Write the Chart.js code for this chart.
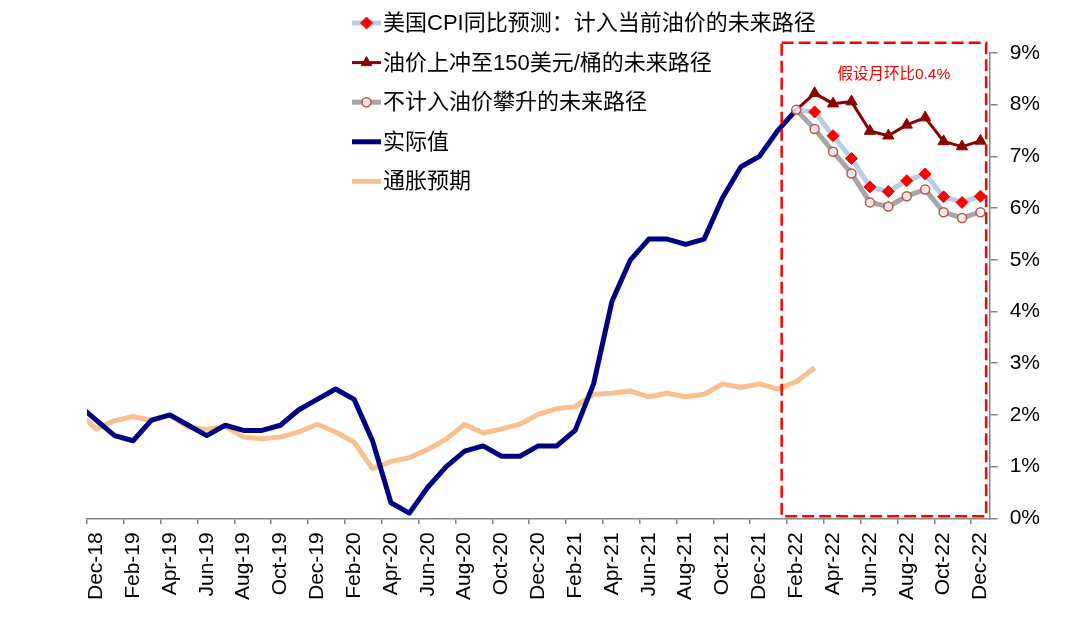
<!DOCTYPE html>
<html>
<head>
<meta charset="utf-8">
<script src="https://cdn.jsdelivr.net/npm/chart.js@4.4.1/dist/chart.umd.min.js"></script>
<style>
  body { margin: 0; background: #fff; }
  canvas { display: block; }
</style>
</head>
<body>
<canvas id="cpiChart" width="1079" height="623"></canvas>
<script>
// x-axis categories (one per month, labelled every other month)
const months = ['Dec-18','Jan-19','Feb-19','Mar-19','Apr-19','May-19','Jun-19','Jul-19','Aug-19','Sep-19','Oct-19','Nov-19',
  'Dec-19','Jan-20','Feb-20','Mar-20','Apr-20','May-20','Jun-20','Jul-20','Aug-20','Sep-20','Oct-20','Nov-20',
  'Dec-20','Jan-21','Feb-21','Mar-21','Apr-21','May-21','Jun-21','Jul-21','Aug-21','Sep-21','Oct-21','Nov-21',
  'Dec-21','Jan-22','Feb-22','Mar-22','Apr-22','May-22','Jun-22','Jul-22','Aug-22','Sep-22','Oct-22','Nov-22','Dec-22'];

// actual CPI YoY, Nov-18 .. Feb-22 (Nov-18 sits just left of the axis and is clipped)
const actualStart = -1;
const actualCpi = [2.2, 1.9, 1.6, 1.5, 1.9, 2.0, 1.8, 1.6, 1.8, 1.7, 1.7, 1.8, 2.1, 2.3, 2.5, 2.3, 1.5, 0.3, 0.1, 0.6,
  1.0, 1.3, 1.4, 1.2, 1.2, 1.4, 1.4, 1.7, 2.6, 4.2, 5.0, 5.4, 5.4, 5.3, 5.4, 6.2, 6.8, 7.0, 7.5, 7.9];

// inflation expectations, Nov-18 .. Mar-22
const expectStart = -1;
const inflationExpect = [2.05, 1.73, 1.89, 1.97, 1.89, 1.99, 1.76, 1.72, 1.78, 1.57, 1.54, 1.57, 1.67, 1.82, 1.67, 1.47,
  0.96, 1.10, 1.17, 1.33, 1.53, 1.82, 1.65, 1.73, 1.82, 2.01, 2.12, 2.16, 2.40, 2.42, 2.46, 2.35, 2.42, 2.35, 2.40,
  2.60, 2.53, 2.60, 2.50, 2.64, 2.91];

// forecast paths, Feb-22 .. Dec-22
const forecastStart = months.indexOf('Feb-22');
const pathOilNow = [7.9, 7.86, 7.40, 6.96, 6.41, 6.32, 6.53, 6.66, 6.22, 6.11, 6.23];
const pathOil150 = [7.9, 8.22, 8.02, 8.06, 7.49, 7.40, 7.61, 7.75, 7.29, 7.19, 7.30];
const pathNoOil = [7.9, 7.53, 7.09, 6.67, 6.11, 6.03, 6.23, 6.36, 5.92, 5.81, 5.92];

const yTicks = [0, 1, 2, 3, 4, 5, 6, 7, 8, 9];
const boxNote = '假设月环比0.4%';

function toPoints(start, values) {
  return values.map((v, i) => ({ x: start + i, y: v }));
}

const latin = "'Liberation Sans', Arial, 'Noto Sans CJK SC', sans-serif";

const datasets = [
  {
    label: '美国CPI同比预测：计入当前油价的未来路径',
    data: toPoints(forecastStart, pathOilNow),
    borderColor: '#B9CDE5', borderWidth: 5,
    pointStyle: 'rectRot', pointRadius: ctx => ctx.dataIndex === 0 ? 0 : 6,
    pointBackgroundColor: '#FF0000', pointBorderColor: '#FF0000', pointBorderWidth: 1,
    order: 2
  },
  {
    label: '油价上冲至150美元/桶的未来路径',
    data: toPoints(forecastStart, pathOil150),
    borderColor: '#8B0000', borderWidth: 3,
    pointStyle: 'triangle', pointRadius: ctx => ctx.dataIndex === 0 ? 0 : 6.5,
    pointBackgroundColor: '#8B0000', pointBorderColor: '#8B0000', pointBorderWidth: 1,
    order: 1
  },
  {
    label: '不计入油价攀升的未来路径',
    data: toPoints(forecastStart, pathNoOil),
    borderColor: '#A6A6A6', borderWidth: 5,
    pointStyle: 'circle', pointRadius: 4.5,
    pointBackgroundColor: 'rgba(255,255,255,0.75)', pointBorderColor: '#C0504D', pointBorderWidth: 1.5,
    order: 0
  },
  {
    label: '实际值',
    data: toPoints(actualStart, actualCpi),
    borderColor: '#000080', borderWidth: 5, pointRadius: 0,
    order: 3
  },
  {
    label: '通胀预期',
    data: toPoints(expectStart, inflationExpect),
    borderColor: '#FAC090', borderWidth: 5, pointRadius: 0,
    order: 4
  }
];
datasets.forEach(d => { d.xAxisID = 'xl'; d.fill = false; d.tension = 0; d.borderJoinStyle = 'round'; });

// red dashed box around the forecast months, with its note
const forecastBox = {
  id: 'forecastBox',
  afterDatasetsDraw(chart) {
    const xs = chart.scales.xl, ys = chart.scales.y;
    const left = xs.getPixelForValue(forecastStart - 0.79);
    const right = xs.getPixelForValue(months.length - 0.69);
    const top = ys.getPixelForValue(9.2);
    const bottom = ys.getPixelForValue(0.04);
    const c = chart.ctx;
    c.save();
    c.strokeStyle = '#FF0000';
    c.lineWidth = 2.5;
    c.setLineDash([12, 5]);
    c.strokeRect(left, top, right - left, bottom - top);
    c.setLineDash([]);
    c.fillStyle = '#FF0000';
    c.font = "15.5px " + latin;
    c.textAlign = 'center';
    c.textBaseline = 'middle';
    c.fillText(boxNote, xs.getPixelForValue(43.3), ys.getPixelForValue(8.58));
    c.restore();
  }
};

// legend in the upper left, partly above the plot
const cornerLegend = {
  id: 'cornerLegend',
  afterDraw(chart) {
    const c = chart.ctx;
    const x0 = 352, x1 = 381, textX = 383;
    const y0 = 23, step = 39.6;
    c.save();
    c.font = "22px " + latin;
    c.textBaseline = 'middle';
    c.textAlign = 'left';
    chart.data.datasets.forEach((ds, i) => {
      const y = y0 + i * step;
      c.strokeStyle = ds.borderColor;
      c.lineWidth = ds.borderWidth;
      c.beginPath();
      c.moveTo(x0, y);
      c.lineTo(x1, y);
      c.stroke();
      if (ds.pointStyle) {
        const r = ds.pointStyle === 'circle' ? 4.5 : ds.pointStyle === 'triangle' ? 6 : 6;
        c.fillStyle = ds.pointBackgroundColor;
        c.strokeStyle = ds.pointBorderColor;
        c.lineWidth = ds.pointBorderWidth;
        Chart.helpers.drawPoint(c, { pointStyle: ds.pointStyle, radius: r, rotation: 0, borderWidth: ds.pointBorderWidth }, (x0 + x1) / 2, y);
      }
      c.fillStyle = '#000';
      c.fillText(ds.label, textX, y + 1);
    });
    c.restore();
  }
};

new Chart(document.getElementById('cpiChart'), {
  type: 'line',
  data: { labels: months, datasets: datasets },
  options: {
    responsive: false,
    animation: false,
    layout: { padding: { left: 87, right: 27, top: 53, bottom: 15 } },
    plugins: { legend: { display: false }, tooltip: { enabled: false } },
    scales: {
      x: {
        type: 'category',
        offset: true,
        grid: {
          offset: true,
          drawOnChartArea: false,
          tickLength: 6,
          lineWidth: 1.5,
          color: ctx => ctx.index % 2 === 0 ? '#868686' : 'rgba(0,0,0,0)'
        },
        border: { color: '#868686', width: 1.5 },
        ticks: {
          autoSkip: false,
          maxRotation: 90,
          minRotation: 90,
          padding: 8,
          color: '#000',
          font: { family: latin, size: 21 },
          callback: (v, i) => i % 2 === 0 ? months[i] : ''
        }
      },
      xl: { type: 'linear', display: false, min: -0.5, max: months.length - 0.5 },
      y: {
        position: 'right',
        min: 0,
        max: 9,
        afterBuildTicks: scale => { scale.ticks = yTicks.map(v => ({ value: v })); },
        grid: { drawOnChartArea: false, tickLength: 8, lineWidth: 1.5, color: '#868686' },
        border: { color: '#868686', width: 1.5 },
        ticks: {
          padding: 12,
          color: '#000',
          font: { family: latin, size: 21 },
          callback: v => v + '%'
        }
      }
    }
  },
  plugins: [forecastBox, cornerLegend]
});
</script>
</body>
</html>
